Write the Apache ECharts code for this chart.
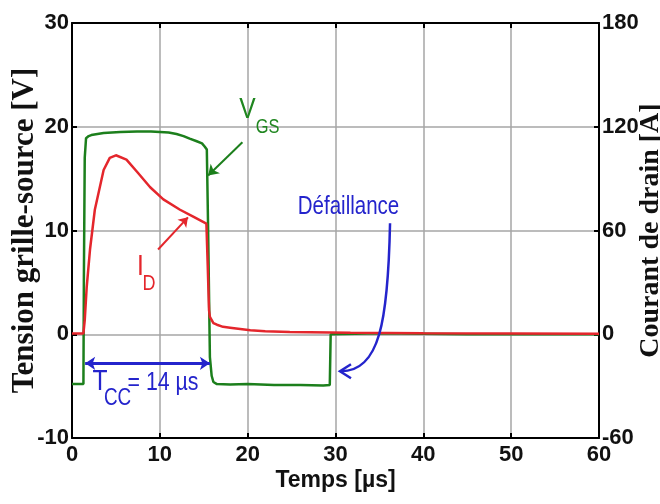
<!DOCTYPE html>
<html>
<head>
<meta charset="utf-8">
<script src="https://cdn.jsdelivr.net/npm/echarts@6/dist/echarts.min.js"></script>
<style>
  html, body { margin: 0; padding: 0; background: #fff; }
  #chart { width: 660px; height: 504px; }
</style>
</head>
<body>
<div id="chart"></div>
<script>
// V_GS trace (left axis, V)
var tGs = [0, 1.3, 1.35, 1.45, 1.6, 1.9, 2.2, 3.6, 5.5, 7.4, 9, 10, 11, 11.9, 12.7, 13.4, 14.2, 14.8, 15.1, 15.35, 15.5, 15.7, 15.9, 16.1, 16.5, 18, 20, 23, 26, 28.6, 29.35, 29.45, 35, 45, 60];
var vGs = [-4.8, -4.8, 5, 17, 18.9, 19.1, 19.2, 19.4, 19.5, 19.55, 19.55, 19.5, 19.45, 19.3, 19.1, 18.85, 18.6, 18.4, 18.1, 17.8, 10, -2.2, -4, -4.6, -4.8, -4.85, -4.8, -4.9, -4.9, -4.95, -4.9, 0, 0.1, 0, 0];

// I_D trace (right axis, A)
var tId = [0, 1.3, 1.45, 1.67, 2.05, 2.6, 3.6, 4.3, 5.0, 6.2, 7.4, 8.9, 10.4, 12.3, 13.8, 15.3, 15.45, 15.6, 15.7, 16.1, 16.5, 17.2, 18, 20.3, 22, 24.8, 31.7, 40, 50, 60];
var aId = [0.5, 0.5, 8, 27, 49, 72, 95, 102, 103.5, 101, 94, 85, 78, 72, 68, 64, 40, 14, 10, 6.5, 5.5, 4.3, 3.8, 2.3, 1.8, 1.3, 0.8, 0.6, 0.5, 0.3];

var xTicks = [0, 10, 20, 30, 40, 50, 60];
var leftTicks = [-10, 0, 10, 20, 30];
var rightTicks = [-60, 0, 60, 120, 180];

// annotation anchors, in (µs, V) units
var vgsArrow = [[19.4, 18.5], [15.5, 15.3]];
var idArrow = [[9.8, 49], [13.2, 67.6]];       // (µs, A)
var tccArrow = [[1.5, -2.8], [15.7, -2.8]];
var failCurve = [[36.21, 10.7], [35.98, 1.35], [35.07, -3.66], [30.51, -3.57]];
var labels = [
  { text: 'V', at: [19.98, 21.64], size: 30, color: '#1f861f' },
  { text: 'GS', at: [22.26, 19.9], size: 20, color: '#1f861f' },
  { text: 'I', at: [7.8, 6.55], size: 30, color: '#e4262c' },
  { text: 'D', at: [8.77, 4.87], size: 22, color: '#e4262c' },
  { text: 'Défaillance', at: [31.48, 12.24], size: 25, color: '#2424cc' },
  { text: 'T', at: [3.19, -4.53], size: 30, color: '#2424cc' },
  { text: 'CC', at: [5.18, -6.22], size: 23, color: '#2424cc' },
  { text: '= 14 µs', at: [10.36, -4.67], size: 26, color: '#2424cc' }
];

var sans = "'Liberation Sans', Arial, sans-serif";
var serif = "'Liberation Serif', 'Times New Roman', serif";
var green = '#1c7f1c';
var red = '#e4262c';
var blue = '#2424cc';

var gsData = tGs.map(function (t, i) { return [t, vGs[i]]; });
var idData = tId.map(function (t, i) { return [t, aId[i]]; });

var dom = document.getElementById('chart');
var myChart = echarts.init(dom, null, { renderer: 'canvas' });

var tickLabel = { fontFamily: sans, fontWeight: 'bold', fontSize: 22, color: '#111' };
var blackLine = { show: true, onZero: false, lineStyle: { color: '#000', width: 2 } };
var innerTick = { show: true, inside: true, length: 5, lineStyle: { color: '#000', width: 2 } };

var option = {
  animation: false,
  backgroundColor: '#fff',
  grid: { left: 72, right: 61, top: 23, bottom: 66, containLabel: false, outerBoundsMode: 'none' },
  xAxis: [
    {
      type: 'value', min: 0, max: 60, interval: 10,
      name: 'Temps [µs]', nameLocation: 'middle', nameGap: 31, nameMoveOverlap: false,
      nameTextStyle: { fontFamily: sans, fontWeight: 'bold', fontSize: 23, color: '#111' },
      axisLine: blackLine, axisTick: innerTick,
      axisLabel: Object.assign({ margin: 6, formatter: function (v) { return xTicks.indexOf(v) >= 0 ? String(v) : ''; } }, tickLabel),
      splitLine: { show: true, lineStyle: { color: '#a6a6a6', width: 1.5 } }
    },
    {
      type: 'value', min: 0, max: 60, interval: 10, position: 'top',
      axisLine: blackLine, axisTick: innerTick,
      axisLabel: { show: false },
      splitLine: { show: false }
    }
  ],
  yAxis: [
    {
      type: 'value', min: -10, max: 30, interval: 10, position: 'left',
      name: 'Tension grille-source [V]', nameLocation: 'middle', nameGap: 32, nameMoveOverlap: false,
      nameTextStyle: { fontFamily: serif, fontWeight: 'bold', fontSize: 31, color: '#111' },
      axisLine: blackLine, axisTick: innerTick,
      axisLabel: Object.assign({ margin: 3, formatter: function (v) { return leftTicks.indexOf(v) >= 0 ? String(v) : ''; } }, tickLabel),
      splitLine: { show: true, lineStyle: { color: '#a6a6a6', width: 1.5 } }
    },
    {
      type: 'value', min: -60, max: 180, interval: 60, position: 'right',
      name: 'Courant de drain [A]', nameLocation: 'middle', nameGap: 38, nameMoveOverlap: false,
      nameTextStyle: { fontFamily: serif, fontWeight: 'bold', fontSize: 28, color: '#111' },
      axisLine: blackLine, axisTick: innerTick,
      axisLabel: Object.assign({ margin: 3, formatter: function (v) { return rightTicks.indexOf(v) >= 0 ? String(v) : ''; } }, tickLabel),
      splitLine: { show: false }
    }
  ],
  series: [
    {
      name: 'VGS', type: 'line', xAxisIndex: 0, yAxisIndex: 0,
      data: gsData, showSymbol: false, symbol: 'none',
      lineStyle: { color: green, width: 2.5 }, z: 3,
      markLine: {
        silent: true, animation: false,
        symbol: ['none', 'arrow'], symbolSize: 10,
        label: { show: false },
        data: [
          [{ coord: vgsArrow[0], lineStyle: { color: green, width: 2, type: 'solid' } }, { coord: vgsArrow[1] }],
          [{ coord: tccArrow[0], symbol: 'arrow', lineStyle: { color: blue, width: 3, type: 'solid' } }, { coord: tccArrow[1] }]
        ]
      }
    },
    {
      name: 'ID', type: 'line', xAxisIndex: 0, yAxisIndex: 1,
      data: idData, showSymbol: false, symbol: 'none',
      lineStyle: { color: red, width: 2.5 }, z: 4,
      markLine: {
        silent: true, animation: false,
        symbol: ['none', 'arrow'], symbolSize: 9,
        label: { show: false },
        data: [
          [{ coord: idArrow[0], lineStyle: { color: red, width: 2, type: 'solid' } }, { coord: idArrow[1] }]
        ]
      }
    }
  ]
};

myChart.setOption(option);

// text + curved arrow placed from data coordinates (text squeezed to look condensed)
function px(p) { return myChart.convertToPixel({ xAxisIndex: 0, yAxisIndex: 0 }, p); }
var graphics = labels.map(function (l) {
  var p = px(l.at);
  return {
    type: 'text', x: p[0], y: p[1], scaleX: 0.82, z: 100,
    style: { text: l.text, fill: l.color, font: l.size + 'px ' + sans, align: 'center', verticalAlign: 'middle' }
  };
});
var c = failCurve.map(px);
graphics.push({
  type: 'bezierCurve', z: 100,
  shape: { x1: c[0][0], y1: c[0][1], cpx1: c[1][0], cpy1: c[1][1], cpx2: c[2][0], cpy2: c[2][1], x2: c[3][0], y2: c[3][1] },
  style: { stroke: blue, lineWidth: 2.5, fill: null }
});
graphics.push({
  type: 'polyline', z: 100,
  shape: { points: [[c[3][0] + 11, c[3][1] - 7], c[3], [c[3][0] + 11, c[3][1] + 7]] },
  style: { stroke: blue, lineWidth: 2.5, fill: null }
});
myChart.setOption({ graphic: graphics });

window.addEventListener('resize', myChart.resize);
</script>
</body>
</html>
